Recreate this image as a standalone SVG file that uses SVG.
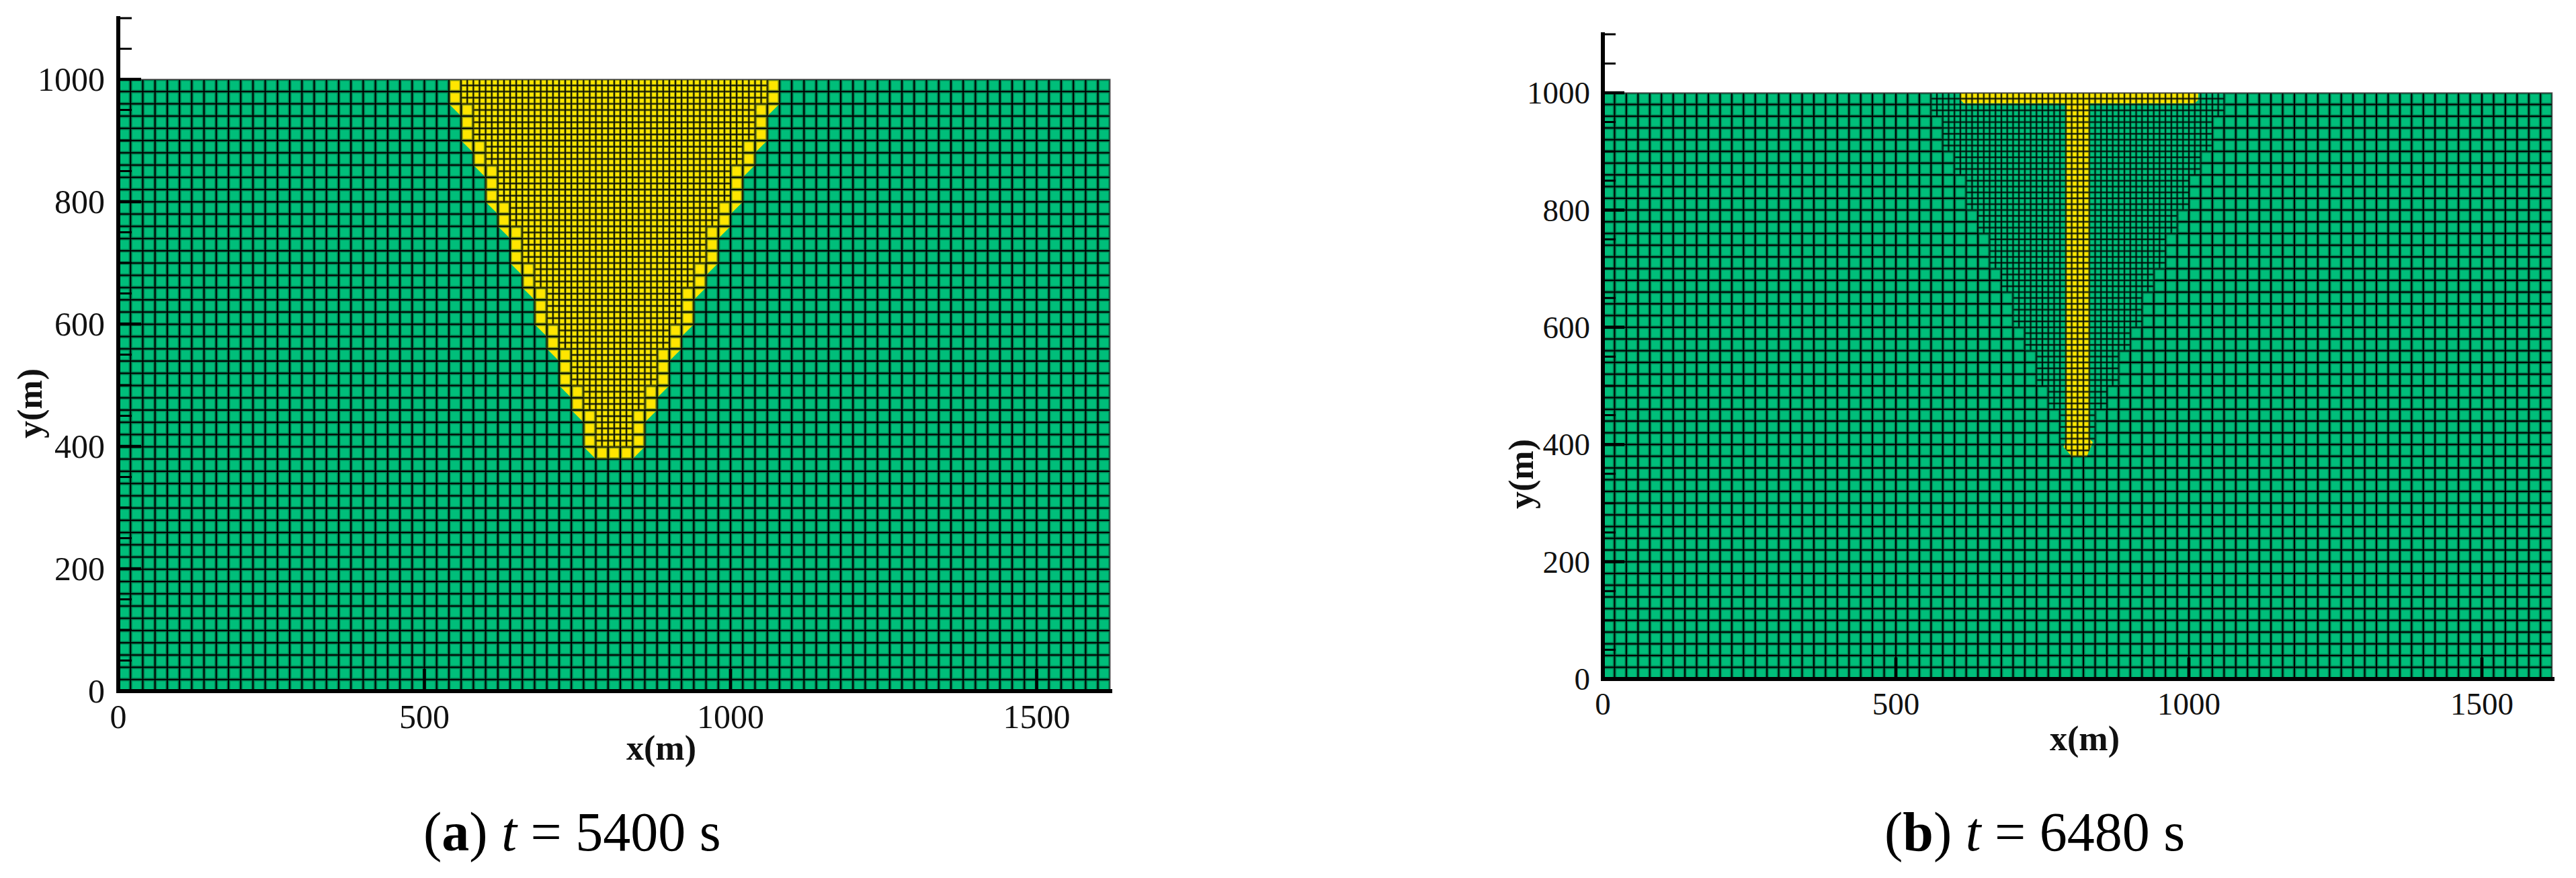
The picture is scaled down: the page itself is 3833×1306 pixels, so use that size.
<svg xmlns="http://www.w3.org/2000/svg" width="3833" height="1306" viewBox="0 0 3833 1306">
<style>
text{font-family:"Liberation Serif","Times New Roman","DejaVu Serif",serif}
.tk{fill:#111}
.ya{font-size:50px;text-anchor:end}
.xa{font-size:50px;text-anchor:middle}
.yb{font-size:47px;text-anchor:end}
.xb{font-size:47px;text-anchor:middle}
.lab{font-weight:bold;font-size:52px;fill:#111}
.cap{font-size:82px;fill:#000}
.ax{stroke:#000;stroke-width:6;fill:none;stroke-linecap:square}
.maj{stroke:#000;stroke-width:4.5}
.min{stroke:#000;stroke-width:3}
.green{fill:#00BE7A}
.yellow{fill:#FFE600}
</style>
<defs>
<pattern id="coarse" patternUnits="userSpaceOnUse" x="0" y="0" width="20" height="20">
<path d="M0 0V20M20 0V20M0 0H20M0 20H20" stroke="#003d24" stroke-opacity="0.55" stroke-width="5.5" fill="none"/>
<path d="M0 0V20M20 0V20M0 0H20M0 20H20" stroke="#000" stroke-width="2.2" fill="none"/>
</pattern>
<pattern id="fine" patternUnits="userSpaceOnUse" x="0" y="0" width="10" height="10">
<path d="M0 0V10M10 0V10M0 0H10M0 10H10" stroke="#002a18" stroke-opacity="0.45" stroke-width="3.8" fill="none"/>
<path d="M0 0V10M10 0V10M0 0H10M0 10H10" stroke="#000" stroke-width="1.7" fill="none"/>
</pattern>
<polygon id="outerA" points="540,0 540,40 560,60 560,100 580,120 580,140 600,160 600,200 620,220 620,240 640,260 640,300 660,320 660,340 680,360 680,400 700,420 700,440 720,460 720,500 740,520 740,540 760,560 760,600 780,620 840,620 860,600 860,560 880,540 880,520 900,500 900,460 920,440 920,420 940,400 940,360 960,340 960,320 980,300 980,260 1000,240 1000,220 1020,200 1020,160 1040,140 1040,120 1060,100 1060,60 1080,40 1080,0"/>
<polygon id="inner" points="560,0 560,40 580,40 580,100 600,100 600,140 620,140 620,200 640,200 640,240 660,240 660,300 680,300 680,340 700,340 700,400 720,400 720,440 740,440 740,500 760,500 760,540 780,540 780,600 840,600 840,540 860,540 860,500 880,500 880,440 900,440 900,400 920,400 920,340 940,340 940,300 960,300 960,240 980,240 980,200 1000,200 1000,140 1020,140 1020,100 1040,100 1040,40 1060,40 1060,0"/>
<polygon id="tee" points="610,0 1016,0 1016,12 1010,18 830,18 830,590 836,596 826,620 800,620 786,604 790,596 790,18 616,18 610,12"/>
</defs>

<g id="panel-a">
<g id="plot-a" transform="translate(176,118) scale(0.911)">
<rect class="green" x="0" y="0" width="1620" height="1000"/>
<rect x="0" y="0" width="1620" height="1000" fill="url(#coarse)"/>
<use href="#outerA" class="yellow"/>
<use href="#outerA" fill="url(#coarse)"/>
<use href="#inner" class="yellow"/>
<use href="#inner" fill="url(#fine)"/>
<rect x="0" y="0" width="1620" height="1000" fill="none" stroke="#555" stroke-width="1.5"/>
</g>
<g id="axes-a">
<path class="ax" d="M176 27V1028H1652"/>
<path class="maj" d="M176 1028H210M176 846H210M176 664H210M176 482H210M176 300H210M176 118H210"/>
<path class="min" d="M176 982.5H196M176 937H196M176 891.5H196M176 800.5H196M176 755H196M176 709.5H196M176 618.5H196M176 573H196M176 527.5H196M176 436.5H196M176 391H196M176 345.5H196M176 254.5H196M176 209H196M176 163.5H196M176 72.5H196M176 27H196"/>
<path class="maj" d="M631.5 1028V995M1087 1028V995M1542.5 1028V995"/>
<text class="tk ya" x="156" y="1045">0</text>
<text class="tk ya" x="156" y="863">200</text>
<text class="tk ya" x="156" y="681">400</text>
<text class="tk ya" x="156" y="499">600</text>
<text class="tk ya" x="156" y="317">800</text>
<text class="tk ya" x="156" y="135">1000</text>
<text class="tk xa" x="176" y="1083">0</text>
<text class="tk xa" x="631.5" y="1083">500</text>
<text class="tk xa" x="1087" y="1083">1000</text>
<text class="tk xa" x="1542.5" y="1083">1500</text>
<text class="lab" x="984" y="1130" text-anchor="middle">x(m)</text>
<text class="lab" transform="translate(62,600) rotate(-90)" text-anchor="middle">y(m)</text>
</g>
<text id="cap-a" class="cap" x="630" y="1265">(<tspan font-weight="bold">a</tspan>) <tspan font-style="italic">t</tspan> = 5400 s</text>
</g>

<g id="panel-b">
<g id="plot-b" transform="translate(2385,138) scale(0.872)">
<rect class="green" x="0" y="0" width="1620" height="1000"/>
<rect x="0" y="0" width="1620" height="1000" fill="url(#coarse)"/>
<use href="#inner" class="green"/>
<use href="#inner" fill="url(#fine)"/>
<use href="#tee" class="yellow"/>
<use href="#tee" fill="url(#fine)"/>
<rect x="0" y="0" width="1620" height="1000" fill="none" stroke="#555" stroke-width="1.5"/>
</g>
<g id="axes-b">
<path class="ax" d="M2385 51V1010H3798"/>
<path class="maj" d="M2385 1010H2417M2385 835.6H2417M2385 661.2H2417M2385 486.8H2417M2385 312.4H2417M2385 138H2417"/>
<path class="min" d="M2385 966.4H2404M2385 922.8H2404M2385 879.2H2404M2385 792H2404M2385 748.4H2404M2385 704.8H2404M2385 617.6H2404M2385 574H2404M2385 530.4H2404M2385 443.2H2404M2385 399.6H2404M2385 356H2404M2385 268.8H2404M2385 225.2H2404M2385 181.6H2404M2385 94.4H2404M2385 51H2404"/>
<path class="maj" d="M2821 1010V978M3257 1010V978M3693 1010V978"/>
<text class="tk yb" x="2366" y="1026">0</text>
<text class="tk yb" x="2366" y="852">200</text>
<text class="tk yb" x="2366" y="677">400</text>
<text class="tk yb" x="2366" y="503">600</text>
<text class="tk yb" x="2366" y="329">800</text>
<text class="tk yb" x="2366" y="154">1000</text>
<text class="tk xb" x="2385" y="1063">0</text>
<text class="tk xb" x="2821" y="1063">500</text>
<text class="tk xb" x="3257" y="1063">1000</text>
<text class="tk xb" x="3693" y="1063">1500</text>
<text class="lab" x="3102" y="1116" text-anchor="middle">x(m)</text>
<text class="lab" transform="translate(2281,705) rotate(-90)" text-anchor="middle">y(m)</text>
</g>
<text id="cap-b" class="cap" x="2804" y="1265">(<tspan font-weight="bold">b</tspan>) <tspan font-style="italic">t</tspan> = 6480 s</text>
</g>
</svg>
